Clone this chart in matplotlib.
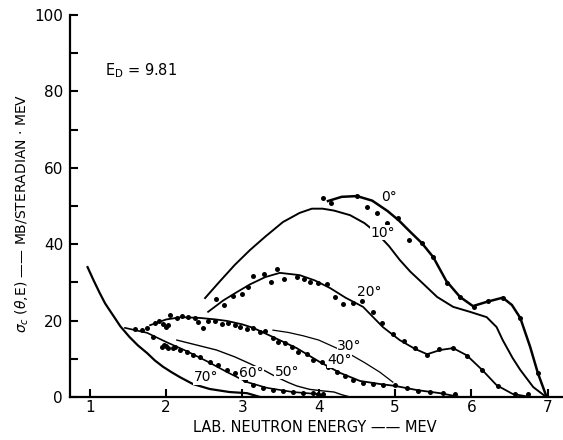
import matplotlib
matplotlib.use("Agg")
import matplotlib.pyplot as plt

# smooth curves (lab energy MeV, cross section mb/sr-MeV)
e_0 = [4.12, 4.3, 4.5, 4.7, 4.9, 5.05, 5.2, 5.35, 5.5, 5.67, 5.85, 6.02, 6.2, 6.41, 6.53, 6.64, 6.77, 6.87, 6.98]
s_0 = [51.3, 52.4, 52.6, 51.4, 48.7, 46.2, 43.2, 40.3, 36.6, 30.4, 26.2, 23.8, 24.9, 26.0, 24.1, 20.7, 13.1, 6.3, 0.3]

e_10 = [2.51, 2.7, 2.9, 3.1, 3.3, 3.53, 3.75, 3.91, 4.05, 4.2, 4.41, 4.6, 4.76, 4.92, 5.06, 5.2, 5.36,
        5.55, 5.76, 5.98, 6.2, 6.33, 6.41, 6.54, 6.64, 6.81, 6.96]
s_10 = [25.9, 30.2, 34.6, 38.5, 42.0, 45.8, 48.2, 49.3, 49.3, 48.8, 47.6, 45.5, 42.9, 39.5, 35.9, 32.8, 29.8,
        26.2, 23.6, 22.3, 20.9, 18.3, 14.9, 10.2, 7.1, 2.6, 0.3]

e_20 = [2.55, 2.75, 2.93, 3.1, 3.3, 3.49, 3.75, 3.95, 4.15, 4.35, 4.58, 4.84, 5.06, 5.26, 5.42, 5.59,
        5.76, 5.94, 6.14, 6.33, 6.54, 6.77]
s_20 = [22.3, 25.3, 27.5, 29.5, 31.4, 32.5, 31.9, 30.5, 28.5, 26.0, 23.6, 18.3, 14.9, 12.6, 11.2, 12.3,
        12.8, 10.9, 7.1, 3.1, 0.8, 0.0]

e_30 = [3.4, 3.6, 3.8, 4.0, 4.2, 4.4, 4.6, 4.8, 4.97]
s_30 = [17.5, 16.9, 16.0, 14.9, 13.1, 11.3, 9.0, 6.5, 3.9]

e_40 = [1.79, 2.0, 2.2, 2.44, 2.65, 2.8, 3.0, 3.14, 3.4, 3.71, 4.01, 4.28, 4.54, 4.8, 5.0, 5.29, 5.59, 5.85]
s_40 = [18.8, 20.3, 20.9, 20.7, 20.3, 19.9, 19.0, 18.1, 15.7, 12.8, 9.2, 6.3, 4.2, 3.4, 2.9, 1.8, 1.0, 0.0]

e_50 = [2.14, 2.4, 2.66, 2.9, 3.1, 3.3, 3.45, 3.6, 3.71, 3.88, 4.05, 4.2, 4.3, 4.41]
s_50 = [14.9, 13.6, 12.3, 10.5, 8.7, 6.8, 5.2, 3.8, 2.9, 2.0, 1.6, 1.3, 0.6, 0.0]

e_60 = [1.46, 1.75, 2.0, 2.27, 2.53, 2.8, 3.06, 3.32, 3.66, 3.97, 4.1]
s_60 = [18.1, 16.8, 14.4, 12.0, 9.4, 6.5, 3.9, 2.4, 1.3, 0.8, 0.0]

e_70 = [0.97, 1.05, 1.13, 1.2, 1.3, 1.4, 1.52, 1.63, 1.75, 1.85, 1.96, 2.07, 2.18, 2.35, 2.57, 2.83, 3.06, 3.23]
s_70 = [34.0, 30.5, 27.2, 24.5, 21.5, 18.5, 15.7, 13.5, 11.5, 9.6, 7.9, 6.5, 5.2, 3.4, 2.1, 1.3, 1.0, 0.0]

# measured points
pe_0 = [4.05, 4.16, 4.5, 4.63, 4.76, 4.89, 5.04, 5.18, 5.35, 5.5, 5.68, 5.85, 6.03, 6.22, 6.41, 6.64, 6.87]
ps_0 = [52.1, 50.7, 52.6, 49.8, 48.1, 45.5, 46.9, 41.1, 40.3, 36.6, 29.8, 26.2, 23.6, 25.1, 26.0, 20.7, 6.3]

pe_20 = [2.65, 2.76, 2.88, 3.0, 3.07, 3.14, 3.28, 3.37, 3.45, 3.54, 3.71, 3.8, 3.88, 3.99, 4.11, 4.21,
         4.32, 4.45, 4.56, 4.71, 4.83, 4.97, 5.12, 5.26, 5.42, 5.57, 5.76, 5.94, 6.14, 6.35, 6.57, 6.74]
ps_20 = [25.6, 24.1, 26.4, 27.0, 28.8, 31.7, 32.2, 30.1, 33.5, 30.9, 31.4, 30.9, 30.1, 29.8, 29.6, 26.2,
         24.3, 24.6, 25.1, 22.3, 19.4, 16.5, 14.7, 12.8, 11.0, 12.6, 12.8, 10.7, 7.1, 2.9, 0.8, 0.8]

pe_40 = [1.75, 1.85, 1.9, 1.96, 2.0, 2.02, 2.05, 2.14, 2.21, 2.28, 2.38, 2.42, 2.48, 2.55, 2.64, 2.73,
         2.81, 2.9, 2.97, 3.06, 3.14, 3.23, 3.29, 3.4, 3.46, 3.56, 3.65, 3.73, 3.84, 3.92, 4.04, 4.12,
         4.24, 4.34, 4.45, 4.58, 4.71, 4.84, 5.0, 5.15, 5.3, 5.46, 5.63, 5.78]
ps_40 = [18.0, 19.4, 19.9, 19.1, 18.3, 18.8, 21.5, 20.7, 21.2, 20.9, 20.7, 19.6, 18.1, 19.9, 19.9, 19.1,
         19.4, 18.8, 18.3, 17.8, 18.1, 17.0, 17.3, 15.4, 14.4, 14.1, 13.1, 11.8, 11.3, 9.7, 9.2, 7.9,
         6.5, 5.5, 4.5, 3.7, 3.4, 3.1, 3.1, 2.4, 1.6, 1.3, 1.0, 0.8]

pe_60 = [1.59, 1.68, 1.83, 1.94, 1.97, 2.0, 2.03, 2.09, 2.12, 2.18, 2.27, 2.35, 2.44, 2.57, 2.68, 2.8,
         2.9, 3.03, 3.14, 3.27, 3.4, 3.53, 3.66, 3.79, 3.92, 3.99, 4.05]
ps_60 = [17.8, 17.5, 15.7, 13.1, 13.6, 13.4, 12.9, 12.8, 13.1, 12.3, 11.8, 11.0, 10.5, 9.2, 8.4, 7.1,
         6.3, 4.5, 3.1, 2.4, 1.8, 1.6, 1.3, 1.0, 1.0, 0.8, 0.8]

angle_labels = ["0°", "10°", "20°", "30°", "40°", "50°", "60°", "70°"]
label_e = [4.92, 4.84, 4.66, 4.4, 4.27, 3.58, 3.12, 2.52]
label_s = [52.3, 43.0, 27.5, 13.3, 9.6, 6.6, 6.3, 5.2]

fig = plt.figure(figsize=(5.63, 4.4), dpi=100)
ax = fig.add_axes([70 / 563, 1 - 397 / 440, 493 / 563, 382 / 440])

k = "black"
ax.plot(e_0, s_0, color=k, lw=1.8)
ax.plot(e_10, s_10, color=k, lw=1.4)
ax.plot(e_20, s_20, color=k, lw=1.3)
ax.plot(e_30, s_30, color=k, lw=0.9)
ax.plot(e_40, s_40, color=k, lw=1.3)
ax.plot(e_50, s_50, color=k, lw=1.0)
ax.plot(e_60, s_60, color=k, lw=1.2)
ax.plot(e_70, s_70, color=k, lw=1.6)

for pe, ps in [(pe_0, ps_0), (pe_20, ps_20), (pe_40, ps_40), (pe_60, ps_60)]:
    ax.plot(pe, ps, "o", color=k, ms=3.6, mew=0, clip_on=False)

for lab, x, y in zip(angle_labels, label_e, label_s):
    ax.text(x, y, lab, fontsize=10, ha="center", va="center",
            bbox=dict(facecolor="white", edgecolor="none", pad=0.3))

ax.text(1.2, 85.5, r"E$_\mathregular{D}$ = 9.81", fontsize=10.5, va="center")

ax.set_xlim(0.74, 7.2)
ax.set_ylim(0, 100)
ax.set_xticks(range(1, 8))
ax.set_yticks(range(0, 101, 20))
ax.set_yticks(range(10, 100, 20), minor=True)
ax.tick_params(direction="in", length=6, width=1.5, labelsize=11)
ax.tick_params(axis="x", pad=2)
ax.tick_params(axis="y", pad=5)
ax.tick_params(which="minor", direction="in", length=6, width=1.5)

for s in ["top", "right"]:
    ax.spines[s].set_visible(False)
for s in ["left", "bottom"]:
    ax.spines[s].set_linewidth(1.6)

ax.set_xlabel("LAB. NEUTRON ENERGY —— MEV", fontsize=10.5)
ax.xaxis.set_label_coords(0.497, -0.06)
ax.set_ylabel(r"$\sigma_c$ $(\theta$,E) —— MB/STERADIAN · MEV", fontsize=10)
ax.yaxis.set_label_coords(-0.08, 0.48)

plt.savefig("out.png", dpi=100)
